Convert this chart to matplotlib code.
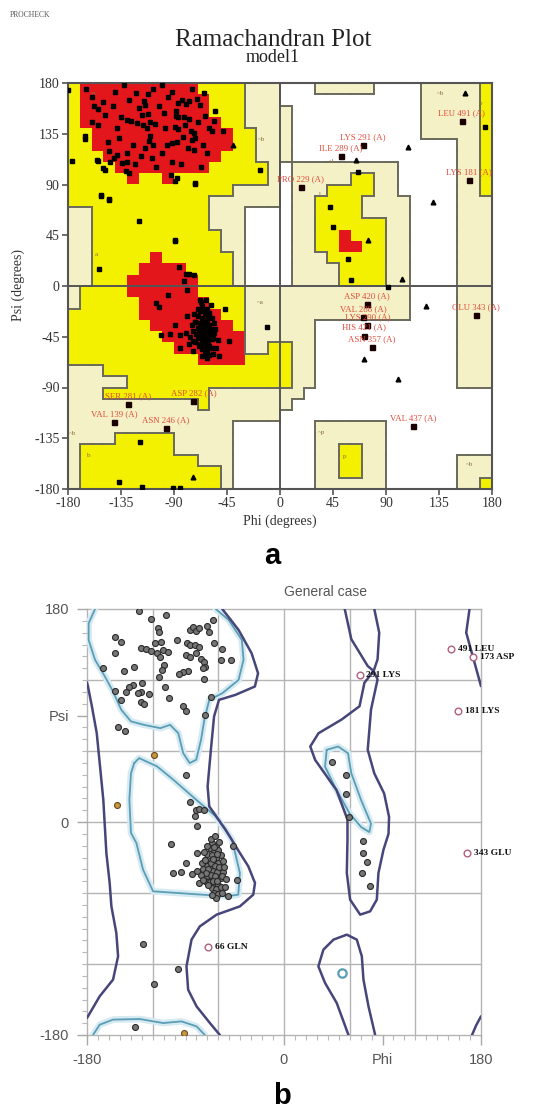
import numpy as np
import matplotlib
matplotlib.use("Agg")
import matplotlib.pyplot as plt
from matplotlib.colors import ListedColormap
from matplotlib.ticker import MultipleLocator

plt.rcParams['axes.unicode_minus'] = False
SERIF = "Liberation Serif"
SANS = "Liberation Sans"

# ---------------- data ----------------
# PROCHECK region map, 10 deg cells. rows: psi 180 -> -180, cols: phi -180 -> 180
# R core, Y allowed, L generously allowed, W disallowed
region_rows = [
    "Y" + "R"*10 + "Y"*4 + "L"*3 + "W"*3 + "L"*5 + "W"*4 + "L"*5 + "Y",
    "Y" + "R"*11 + "Y"*3 + "L"*3 + "W"*12 + "L"*5 + "Y",
    "Y" + "R"*11 + "Y"*3 + "L"*4 + "W"*11 + "L"*5 + "Y",
    "Y" + "R"*12 + "Y"*2 + "L"*4 + "W"*11 + "L"*5 + "Y",
    "Y"*2 + "R"*12 + "Y"*2 + "L"*3 + "W"*11 + "L"*5 + "Y",
    "Y"*2 + "R"*12 + "Y"*2 + "L"*3 + "W"*14 + "L"*2 + "Y",
    "Y"*3 + "R"*10 + "Y"*3 + "L"*3 + "W"*14 + "L"*2 + "Y",
    "Y"*4 + "R"*8 + "Y"*5 + "L" + "W" + "L"*9 + "W"*5 + "L"*2 + "Y",
    "Y"*5 + "R" + "Y"*2 + "R" + "Y"*8 + "L" + "W" + "L"*5 + "Y"*2 + "L"*2 + "W"*5 + "L"*2 + "Y",
    "Y"*14 + "L"*4 + "W" + "L"*3 + "Y"*4 + "L"*2 + "W"*5 + "L"*2 + "Y",
    "Y"*12 + "L"*6 + "W" + "L"*2 + "Y"*4 + "L"*4 + "W"*4 + "L"*3,
    "L"*2 + "Y"*10 + "L"*3 + "W"*4 + "L"*2 + "Y"*4 + "L"*4 + "W"*4 + "L"*3,
    "L"*2 + "Y"*10 + "L"*3 + "W"*4 + "L"*2 + "Y"*6 + "L"*2 + "W"*4 + "L"*3,
    "L"*2 + "Y"*11 + "L"*2 + "W"*4 + "L"*2 + "Y"*2 + "R" + "Y"*3 + "L"*2 + "W"*4 + "L"*3,
    "L"*2 + "Y"*11 + "L"*2 + "W"*4 + "L"*2 + "Y"*2 + "R"*2 + "Y"*2 + "L"*2 + "W"*4 + "L"*3,
    "L"*2 + "Y"*5 + "R" + "Y"*6 + "L" + "W"*4 + "L"*3 + "Y"*5 + "L"*2 + "W"*4 + "L"*3,
    "L"*2 + "Y"*4 + "R"*4 + "Y"*4 + "L" + "W"*4 + "L"*4 + "Y"*4 + "L"*2 + "W"*4 + "L"*3,
    "L"*2 + "Y"*3 + "R"*6 + "Y"*3 + "L" + "W"*4 + "L"*4 + "Y"*4 + "L"*2 + "W"*4 + "L"*3,
    "L" + "Y"*4 + "R"*6 + "Y"*4 + "L"*14 + "W"*4 + "L"*3,
    "L" + "Y"*5 + "R"*6 + "Y"*3 + "L"*14 + "W"*4 + "L"*3,
    "Y"*6 + "R"*7 + "Y"*2 + "L"*14 + "W"*4 + "L"*3,
    "Y"*7 + "R"*7 + "Y" + "L"*6 + "W"*12 + "L"*3,
    "Y"*8 + "R"*7 + "L"*6 + "W"*12 + "L"*3,
    "Y"*9 + "R"*6 + "L"*2 + "Y"*2 + "L"*2 + "W"*12 + "L"*3,
    "Y"*11 + "R"*4 + "Y"*4 + "L"*2 + "W"*12 + "L"*3,
    "L"*3 + "Y"*16 + "L"*2 + "W"*12 + "L"*3,
    "L"*5 + "Y"*14 + "L"*2 + "W"*12 + "L"*3,
    "L"*3 + "Y"*9 + "L"*8 + "W"*16,
    "L"*11 + "Y" + "L"*7 + "W"*17,
    "L"*18 + "W"*18,
    "L"*14 + "W"*7 + "L"*6 + "W"*9,
    "L"*4 + "Y"*5 + "L"*5 + "W"*7 + "L"*6 + "W"*9,
    "L" + "Y"*8 + "L"*5 + "W"*7 + "L"*2 + "Y"*2 + "L"*2 + "W"*9,
    "L" + "Y"*10 + "L"*3 + "W"*7 + "L"*2 + "Y"*2 + "L"*2 + "W"*6 + "L"*3,
    "L" + "Y"*12 + "L" + "W"*7 + "L"*2 + "Y"*2 + "L"*2 + "W"*6 + "L"*3,
    "L" + "Y"*12 + "L" + "W"*7 + "L"*6 + "W"*6 + "L"*2 + "Y",
]

# residues in the beta region (same structure in both plots)
beta_phi = [-132.4, -121.9, -107.6, -115.1, -114.5, -154.7, -148.7, -154.7, -165.7, -146.3,
            -136.8, -130.3, -126.4, -121.3, -117.5, -112.4, -110.6, -106.4, -116.0, -113.0,
            -110.0, -111.5, -114.5, -108.5, -105.5, -123.4, -130.3, -133.8, -130.9, -127.9,
            -130.0, -138.3, -141.3, -144.3, -148.7, -154.7, -151.7, -145.2, -98.1, -88.6,
            -86.2, -81.7, -77.3, -89.2, -86.2, -80.8, -75.8, -72.8, -71.9, -74.3,
            -72.8, -87.7, -92.1, -95.7, -86.2, -83.2, -80.2, -77.3, -70.7, -68.3,
            -64.8, -63.9, -56.4, -57.9, -48.7, -92.7, -89.2, -66.8, -71.9, -89.2,
            -85.6, -80.2, -77.3, -72.8, -81.7, -79.3]
beta_psi = [178.6, 171.3, 174.9, 163.7, 160.3, 156.7, 151.9, 143.2, 130.2, 127.4,
            131.3, 146.8, 146.0, 144.8, 151.6, 152.4, 145.4, 144.0, 142.6, 139.8,
            132.8, 128.5, 122.3, 113.9, 105.2, 108.3, 110.2, 109.4, 101.8, 99.8,
            117.8, 115.9, 113.9, 110.2, 103.2, 111.1, 79.9, 76.5, 153.8, 151.0,
            149.6, 149.6, 148.2, 141.2, 139.2, 142.6, 137.5, 135.6, 131.3, 129.9,
            120.7, 127.7, 126.6, 125.2, 162.3, 165.1, 161.7, 163.7, 165.7, 160.9,
            170.7, 151.0, 146.0, 137.0, 137.0, 98.2, 93.4, 105.5, 90.6, 39.9,
            16.9, 10.5, 11.0, 9.9, 4.8, -3.7]

# residues in the right-handed helix region
alpha_phi = [-66, -62, -68, -64, -60, -70, -66, -62, -58, -72, -68, -64, -60, -56, -70, -66,
             -62, -58, -74, -68, -64, -60, -56, -70, -66, -62, -58, -72, -68, -64, -60, -66,
             -62, -58, -64, -60, -67, -63, -65, -61, -67, -63, -59, -65, -61, -69, -57, -65,
             -61, -69, -55, -71, -64, -67, -63, -59, -70, -73, -75, -76, -53, -54, -57, -62,
             -66, -101.3, -93.7, -89.1, -84.5, -79.9, -77.5, -73.8, -79.3, -72.3, -46.4, -43.3,
             -51.6, -102.8]
alpha_psi = [-18, -20, -22, -25, -24, -27, -28, -30, -28, -32, -33, -34, -35, -33, -37, -38,
             -39, -40, -40, -42, -43, -44, -42, -46, -47, -48, -47, -50, -51, -52, -53, -56,
             -57, -55, -60, -61, -35, -37, -41, -42, -45, -46, -38, -31, -27, -40, -46, -50,
             -50, -53, -38, -43, -21, -14, -12, -17, -20, -25, -35, -45, -48, -55, -60, -64,
             -62, -43.1, -42.3, -34.6, -43.7, -41.7, -51.5, -48.7, -26.2, -31.8, -20.6, -48.7,
             -62.3, -18.3]

# PROCHECK plot: extra residues (squares) and glycines (triangles)
top_sq_phi = [-179.7, -176.9, -165.5, -155.7, -150.0, -152.3, -144.9, -119.5, -89.0, -154.0,
              -72.0, -87.3, -17.0, 66.5, 42.4, 45.3, 57.4, 60.6, 92.0, 174.0, -11.4,
              -119.0, -136.5, -117.5, -90.6, -85.0, -160, -150, -140, -100, -92, -75,
              -165, -158, -142, -135, -128, -120, -112, -103, -98, -95, -88, -82, -78,
              -70, -65, -60, -55, -125, -118, -138, -145, -100, -92, -84, -62, -160, -108,
              -95, -105, -85, -74, -68]
top_sq_psi = [174.0, 111.2, 132.6, 111.8, 104.6, 80.3, 77.3, 57.3, 40.6, 15.3,
              91.0, 95.7, 102.5, 100.9, 70.3, 52.6, 24.2, 4.9, -1.2, 140.6, -36.1,
              -138.0, -173.5, -178.0, -179.0, -179.0, 168, 163, 172, 178, 172, 175,
              175, 160, 160, 150, 165, 158, 170, 160, 140, 168, 155, 132, 122,
              145, 125, 140, 155, 125, 115, 140, 120, 118, 110, 108, 118, 145, 125,
              -8, -15, -55, -58, -12]
gly_phi = [-40.0, 64.5, 74.4, 103.9, 123.7, 71.6, 100.5, 108.4, 129.6, 157.1, -73.6]
gly_psi = [125.3, 111.9, 41.1, 6.2, -17.5, -64.8, -82.6, 123.0, 74.2, 171.0, -169.0]

top_lab_name = ["LEU 491 (A)", "LYS 291 (A)", "ILE 289 (A)", "PRO 229 (A)", "LYS 181 (A)",
                "GLU 343 (A)", "ASP 420 (A)", "VAL 288 (A)", "LYS 290 (A)", "HIS 421 (A)",
                "ASN 357 (A)", "SER 281 (A)", "ASP 282 (A)", "VAL 139 (A)", "ASN 246 (A)",
                "VAL 437 (A)"]
top_lab_phi = [154.2, 70.2, 51.5, 17.5, 160.5, 166.4, 73.6, 70.8, 74.2, 71.6, 77.8,
               -128.8, -73.6, -140.9, -96.7, 113.2]
top_lab_psi = [146.6, 125.3, 115.0, 87.4, 94.3, -26.0, -16.0, -27.9, -34.4, -43.9, -54.5,
               -104.6, -101.7, -120.3, -125.6, -124.4]

region_tags = ["B", "b", "a", "~a", "~b", "~b", "b", "~b", "b", "~l", "l", "~p", "p", "~b"]
region_tag_phi = [-159, -165, -156, -17, -16, -176, -162, 136, 170, 44, 34, 35, 55, 161]
region_tag_psi = [170, 133, 28, -15, 130, -131, -150, 171, 162, 110, 81, -130, -151, -158]

# General case plot: residues only in that plot
gen_L_phi = [43.5, 57.0, 57.0, 59.0, 72.0, 72.0, 75.7, 71.1, 78.7]
gen_L_psi = [51.0, 39.7, 23.5, 4.3, -16.0, -26.2, -34.1, -43.1, -53.8]
gen_extra_phi = [-128.8, -97.3, -118.7, -136.4]
gen_extra_psi = [-103.1, -124.0, -136.9, -173.2]
gen_pro_phi = [-119.0, -152.6, -91.5]
gen_pro_psi = [56.8, 14.6, -178.3]
gen_out_name = ["491 LEU", "173 ASP", "291 LYS", "181 LYS", "343 GLU", "66 GLN"]
gen_out_phi = [153.0, 173.0, 69.0, 159.0, 167.2, -69.3]
gen_out_psi = [146.0, 139.8, 123.9, 93.6, -26.2, -105.9]

# contour lines (phi, psi)
dark_beta_alpha = [(-56.4, 180), (-41.5, 162.3), (-29.6, 142.6), (-23.7, 125.7), (-26.6, 114.5),
                   (-44.5, 107.4), (-59.4, 103.2), (-63.9, 89.2), (-66.8, 61), (-69.8, 30.1),
                   (-68.3, 13.2), (-53.4, -6.5), (-40.3, -26.2), (-32.6, -37.5), (-26.5, -51.5),
                   (-28.1, -61.4), (-40.3, -71.3), (-61.6, -78.3), (-76.9, -88.2), (-84.5, -99.4),
                   (-89.1, -122), (-87.6, -141.7), (-79.9, -155.8), (-67.7, -169.9), (-58.6, -180)]
dark_left = [(-180, 118), (-179.1, 114.5), (-175.5, 97.6), (-171.1, 75.1), (-168.1, 47),
             (-165.1, 18.8), (-162.3, -26.2), (-159.3, -51.5), (-157.7, -71.3), (-153.2, -93.8),
             (-151.6, -113.5), (-156.2, -133.2), (-168.4, -147.3), (-179.1, -164.2), (-180, -165.5)]
dark_L_top = [(55.5, 180), (61.5, 154.5), (76.5, 131.8), (81.9, 127.6), (85.5, 137.5),
              (87, 160), (82.5, 180)]
dark_L = [(81.9, 127.6), (73.5, 117.7), (69, 97.8), (52.5, 86.5), (31.5, 75), (24, 63.8),
          (28.5, 52.4), (48, 26.9), (58, 2), (58, -15), (57.4, -43.1), (60.4, -65.6),
          (69.6, -78.3), (78.7, -75.5), (84.8, -65.6), (86.3, -43.1), (90.9, -23.4),
          (95.5, -10), (96, 4.3), (91.5, 24.1), (82.5, 41.1), (76.5, 61), (79.5, 95),
          (85.5, 120.5), (81.9, 127.6)]
dark_gamma = [(58.9, -180), (48.2, -153), (37.5, -136), (31.4, -122), (36, -107.9),
              (45.2, -99.4), (57.4, -95.2), (66.5, -99.4), (71.1, -113.5), (72.6, -133.2),
              (77.2, -155.8), (83.3, -180)]
dark_right_top = [(169.5, 180), (166.5, 160), (172.5, 140), (180, 114.8)]
dark_right_bottom = [(171.8, -180), (175.5, -172), (180, -164.2)]
light_beta = [(-172.6, 180), (-178.5, 167.9), (-178.5, 153.8), (-172.6, 137), (-163.6, 122.9),
              (-156.2, 110.2), (-148.7, 94.8), (-139.8, 85), (-127.9, 82.1), (-113, 79.3),
              (-104.1, 82.1), (-96.6, 75.1), (-92.1, 58.2), (-86.2, 49.8), (-80.2, 52.6),
              (-75.8, 69.5), (-72.8, 86.3), (-68.3, 103.2), (-56.4, 108.8), (-41.5, 120.1),
              (-37, 137), (-38.5, 153.8), (-50.5, 170.7), (-62.4, 180)]
light_beta_wrap = [(-174.5, -180), (-168.4, -171.3), (-156.2, -167), (-131.8, -166.5),
                   (-110.4, -169.9), (-93.7, -168.5), (-79.9, -172.7), (-72.3, -180)]
light_alpha = [(-136.8, 49.8), (-132.4, 54), (-116, 47), (-101.1, 35.7), (-80.2, 18.8),
               (-62.4, 4.8), (-47.5, -14.9), (-40.3, -43.1), (-41.8, -61.4), (-52.5, -62.8),
               (-119.6, -58.6), (-128.8, -40.3), (-134.9, -17.7), (-139.8, -9.3),
               (-141.3, 18.8), (-139.8, 41.3), (-136.8, 49.8)]
light_L = [(39, 61), (49.5, 63.8), (58.5, 58.1), (61.5, 41.1), (70.5, 18.4), (79.5, -1.4),
           (78, -8.5), (70.5, -4.3), (60, 7.1), (46.5, 29.8), (37.5, 46.8), (39, 61)]
light_gamma_dot = (52.8, -127.6)

# ---------------- figure ----------------
W, H = 534, 1110
fig = plt.figure(figsize=(W / 100, H / 100), dpi=100)

def frac(x0, y_top, w, h):
    return [x0 / W, 1 - (y_top + h) / H, w / W, h / H]

# ===== (a) PROCHECK =====
ax1 = fig.add_axes(frac(68, 83, 424, 406))
codes = {"W": 0, "L": 1, "Y": 2, "R": 3}
grid = np.array([[codes[c] for c in row] for row in region_rows])
cmap = ListedColormap(["#ffffff", "#f4f1c6", "#f3f000", "#e3161b"])
ax1.imshow(grid, cmap=cmap, vmin=0, vmax=3, extent=[-180, 180, -180, 180],
           origin="upper", interpolation="nearest", aspect="auto", zorder=0)

# region boundary lines
bx, by = [], []
for i in range(36):
    for j in range(36):
        a = region_rows[i][j]
        if j < 35:
            b = region_rows[i][j + 1]
            if a != b and {a, b} != {"R", "Y"}:
                x = -170 + 10 * j
                bx += [x, x, np.nan]
                by += [180 - 10 * i, 170 - 10 * i, np.nan]
        if i < 35:
            b = region_rows[i + 1][j]
            if a != b and {a, b} != {"R", "Y"}:
                y = 170 - 10 * i
                bx += [-180 + 10 * j, -170 + 10 * j, np.nan]
                by += [y, y, np.nan]
ax1.plot(bx, by, color="#6a6a5c", lw=1.4, zorder=1)

ax1.axhline(0, color="#555555", lw=1.4, zorder=2)
ax1.axvline(0, color="#555555", lw=1.4, zorder=2)

for t, p, s in zip(region_tags, region_tag_phi, region_tag_psi):
    ax1.text(p, s, t, fontsize=5, color="#8a7040", family=SERIF, ha="center", va="center", zorder=3)

ax1.plot(beta_phi, beta_psi, "s", ms=3.5, color="black", zorder=4)
ax1.plot(alpha_phi, alpha_psi, "s", ms=3.5, color="black", zorder=4)
ax1.plot(top_sq_phi, top_sq_psi, "s", ms=3.5, color="black", zorder=4)
ax1.plot(top_lab_phi, top_lab_psi, "s", ms=3.6, color="#1a0000", zorder=4)
ax1.plot(gly_phi, gly_psi, "^", ms=3.4, color="black", zorder=4)
for name, p, s in zip(top_lab_name, top_lab_phi, top_lab_psi):
    ax1.text(p, s + 7, name, fontsize=6.3, color="#e04a3a", family=SERIF,
             ha="center", va="center", zorder=5, clip_on=False)

ax1.set_xlim(-180, 180)
ax1.set_ylim(-180, 180)
ticks = list(range(-180, 181, 45))
ax1.set_xticks(ticks)
ax1.set_yticks(ticks)
ax1.set_xticklabels([str(t) for t in ticks], family=SERIF, fontsize=10)
ax1.set_yticklabels([str(t) for t in ticks], family=SERIF, fontsize=10)
ax1.tick_params(direction="out", length=4, width=1.2, color="#555555", pad=2, labelcolor="#333333")
for sp in ax1.spines.values():
    sp.set_color("#555555")
    sp.set_linewidth(1.5)

fig.text(10 / W, 1 - 15 / H, "PROCHECK", fontsize=5.5, color="#555555", family=SERIF, ha="left", va="center")
fig.text(273 / W, 1 - 40 / H, "Ramachandran Plot", fontsize=18, color="#222222", family=SERIF, ha="center", va="center")
fig.text(273 / W, 1 - 58 / H, "model1", fontsize=13, color="#222222", family=SERIF, ha="center", va="center")
fig.text(18 / W, 1 - 285 / H, "Psi (degrees)", fontsize=10, rotation=90, color="#333333", family=SERIF, ha="center", va="center")
fig.text(280 / W, 1 - 521 / H, "Phi (degrees)", fontsize=10, color="#333333", family=SERIF, ha="center", va="center")
fig.text(272 / W, 1 - 556 / H, "a", fontsize=21, weight="bold", family=SANS, ha="center", va="center")

# ===== (b) General case =====
ax2 = fig.add_axes(frac(87, 609, 394, 426))
ax2.set_xlim(-180, 180)
ax2.set_ylim(-180, 180)
for v in range(-180, 181, 60):
    ax2.axvline(v, color="#b4b4b4", lw=1.0, zorder=0, clip_on=False)
    ax2.axhline(v, color="#b4b4b4", lw=1.0, zorder=0, clip_on=False)
for sp in ax2.spines.values():
    sp.set_visible(False)

def curve(pts, color, lw, halo=None):
    arr = np.array(pts, dtype=float)
    if halo:
        ax2.plot(arr[:, 0], arr[:, 1], color=halo, lw=lw + 3.5, solid_capstyle="round",
                 solid_joinstyle="round", zorder=1)
    ax2.plot(arr[:, 0], arr[:, 1], color=color, lw=lw, solid_capstyle="round",
             solid_joinstyle="round", zorder=2)

dark = "#46467a"
light = "#5a9db5"
halo = "#d6eaf2"
for c in [light_beta, light_beta_wrap, light_alpha, light_L]:
    curve(c, light, 1.3, halo)
for c in [dark_beta_alpha, dark_left, dark_L_top, dark_L, dark_gamma, dark_right_top, dark_right_bottom]:
    curve(c, dark, 1.8)
ax2.plot([light_gamma_dot[0]], [light_gamma_dot[1]], "o", ms=6, mfc="none", mec=light, mew=1.6, zorder=2)

pt = dict(ms=4.3, mfc="#767676", mec="#2a2a2a", mew=0.8, ls="none", zorder=3)
ax2.plot(beta_phi, beta_psi, "o", **pt)
ax2.plot(alpha_phi, alpha_psi, "o", **pt)
ax2.plot(gen_L_phi, gen_L_psi, "o", **pt)
ax2.plot(gen_extra_phi, gen_extra_psi, "o", **pt)
ax2.plot(gen_pro_phi, gen_pro_psi, "o", ms=4.3, mfc="#c8963c", mec="#6a4a20", mew=0.8, ls="none", zorder=3)
ax2.plot(gen_out_phi, gen_out_psi, "o", ms=4.8, mfc="white", mec="#b0607a", mew=1.0, ls="none",
         zorder=4, clip_on=False)
for name, p, s in zip(gen_out_name, gen_out_phi, gen_out_psi):
    ax2.annotate(name, (p, s), xytext=(5, 0), textcoords="offset points", fontsize=6.8,
                 weight="bold", family=SERIF, color="#111111", va="center", ha="left",
                 annotation_clip=False, zorder=5)

ax2.set_xticks([-180, 0, 90, 180])
ax2.set_xticklabels(["-180", "0", "Phi", "180"])
ax2.set_yticks([-180, 0, 90, 180])
ax2.set_yticklabels(["-180", "0", "Psi", "180"])
ax2.xaxis.set_minor_locator(MultipleLocator(10))
ax2.yaxis.set_minor_locator(MultipleLocator(10))
ax2.tick_params(which="major", direction="out", length=7, width=1, color="#a8a8a8",
                labelsize=10.5, labelcolor="#555555", pad=6)
ax2.tick_params(which="minor", direction="out", length=3.5, width=0.8, color="#b8b8b8")
for lab in ax2.get_xticklabels() + ax2.get_yticklabels():
    lab.set_family(SANS)

fig.text(326 / W, 1 - 592 / H, "General case", fontsize=10, color="#555555", family=SANS, ha="center", va="center")
fig.text(282 / W, 1 - 1096 / H, "b", fontsize=21, weight="bold", family=SANS, ha="center", va="center")

fig.savefig("out.png", dpi=100, facecolor="white")
